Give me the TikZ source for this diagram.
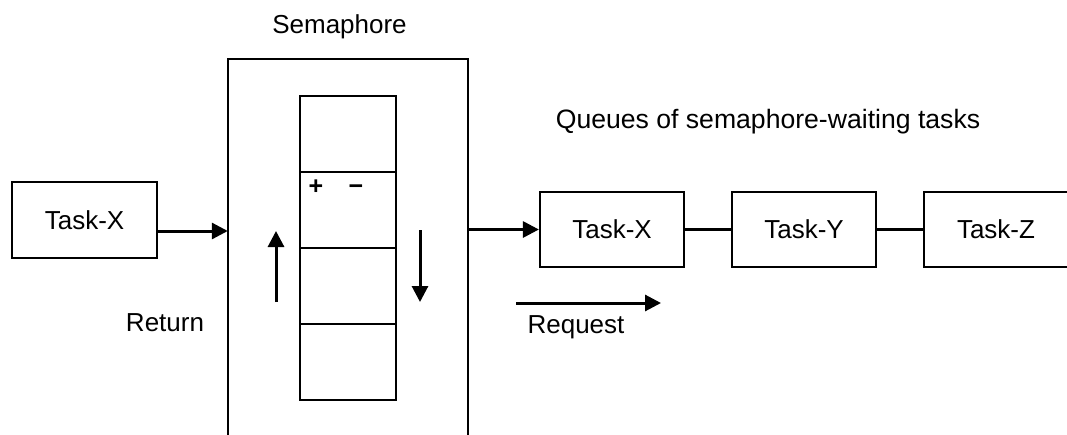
\documentclass[tikz,border=0pt]{standalone}
\usepackage{fontspec}
\setmainfont{Liberation Sans}
\usetikzlibrary{arrows.meta}
\tikzset{
  taskbox/.style={draw, line width=2.2pt, minimum width=144pt, minimum height=75pt, inner sep=0pt, font=\fontsize{26}{30}\selectfont},
  cell/.style={draw, line width=2.2pt, minimum width=96pt, minimum height=76pt, inner sep=0pt},
  label/.style={font=\fontsize{26}{30}\selectfont, inner sep=0pt, anchor=base},
  sign/.style={font=\fontsize{25}{28}\selectfont\bfseries, inner sep=0pt, anchor=base},
  arr/.style={line width=3pt, -{Triangle[length=16pt,width=16pt]}},
  link/.style={line width=2.2pt}
}
\begin{document}
\begin{tikzpicture}[x=1pt,y=-1pt]
\clip (0,0) rectangle (1067,434);
\fill[white] (0,0) rectangle (1067,434);
% semaphore outer box (open at bottom)
\node[minimum width=240pt, minimum height=386pt, inner sep=0pt] (sem) at (348,252) {};
\draw[link] (sem.south west) -- (sem.north west) -- (sem.north east) -- (sem.south east);
\node[label] (semlabel) at (339.5,33) {Semaphore};
% cells
\node[cell] (c1) at (348,134) {};
\node[cell] (c2) at (348,210) {};
\node[cell] (c3) at (348,286) {};
\node[cell] (c4) at (348,362) {};
\node[sign] (plus) at (316,194) {+};
\node[sign] (minus) at (356,194) {−};
% up and down arrows
\coordinate (upa) at (276,302);
\coordinate (upb) at (276,231);
\coordinate (dna) at (420,230);
\coordinate (dnb) at (420,302);
\draw[arr] (upa) -- (upb);
\draw[arr] (dna) -- (dnb);
% left task
\node[taskbox, minimum width=145pt, minimum height=76pt] (tx) at (84.5,220) {Task-X};
\draw[arr] ([yshift=-11pt]tx.east) -- (sem.west |- 0,231);
\node[label] (ret) at (165,331) {Return};
% queue
\node[label, font=\fontsize{26.6}{30}\selectfont] (qlabel) at (768,128) {Queues of semaphore-waiting tasks};
\node[taskbox] (qx) at (612,229.5) {Task-X};
\node[taskbox] (qy) at (804,229.5) {Task-Y};
\node[taskbox] (qz) at (996,229.5) {Task-Z};
\draw[arr] (sem.east |- qx.west) -- (qx.west);
\draw[link] (qx.east) -- (qy.west);
\draw[link] (qy.east) -- (qz.west);
% request
\coordinate (ra) at (516,303);
\coordinate (rb) at (661,303);
\draw[arr] (ra) -- (rb);
\node[label] (req) at (576,333) {Request};
\end{tikzpicture}
\end{document}
